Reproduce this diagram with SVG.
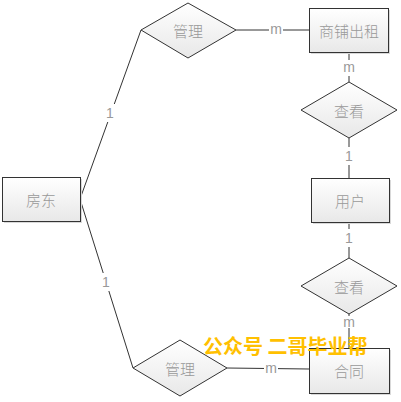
<svg xmlns="http://www.w3.org/2000/svg" width="401" height="402" viewBox="0 0 401 402">
<defs>
<linearGradient id="g" x1="0" y1="0" x2="0" y2="1">
<stop offset="0" stop-color="#ffffff"/>
<stop offset="1" stop-color="#e8e8e8"/>
</linearGradient>
<style>
.ent{fill:url(#g);stroke:#333;stroke-width:1}
.rel{fill:url(#g);stroke:#333;stroke-width:1}
.sh{fill:#d9d9d9}
.t{font-family:"Noto Sans CJK SC","Liberation Sans",sans-serif;font-size:15px;font-weight:300;fill:#999;text-anchor:middle;dominant-baseline:central}
.c{font-family:"Liberation Sans",sans-serif;font-size:14px;fill:#999;text-anchor:middle;dominant-baseline:central}
.ln{stroke:#333;stroke-width:1;fill:none}
.lb{fill:#fff}
</style>
</defs>
<rect width="401" height="402" fill="#fff"/>
<g id="connectors">
<line class="ln" x1="80" y1="199" x2="141" y2="30"/>
<line class="ln" x1="80" y1="199" x2="133" y2="368"/>
<line class="ln" x1="236" y1="30" x2="309" y2="30"/>
<line class="ln" x1="349" y1="52" x2="349" y2="82"/>
<line class="ln" x1="349" y1="138" x2="349" y2="178"/>
<line class="ln" x1="349" y1="222" x2="349" y2="258"/>
<line class="ln" x1="349" y1="314" x2="349" y2="348"/>
<line class="ln" x1="227" y1="368" x2="309" y2="369"/>
<rect class="lb" x="104" y="104" width="12" height="18"/>
<text class="c" x="110" y="113">1</text>
<rect class="lb" x="100" y="273" width="12" height="18"/>
<text class="c" x="106" y="282">1</text>
<rect class="lb" x="269" y="22" width="14" height="16"/>
<text class="c" x="276" y="29">m</text>
<rect class="lb" x="342" y="60" width="14" height="16"/>
<text class="c" x="349" y="67">m</text>
<rect class="lb" x="343" y="147" width="12" height="18"/>
<text class="c" x="349" y="156">1</text>
<rect class="lb" x="343" y="229" width="12" height="18"/>
<text class="c" x="349" y="238">1</text>
<rect class="lb" x="342" y="316" width="14" height="12"/>
<text class="c" x="349" y="322" font-size="12">m</text>
<rect class="lb" x="264" y="361" width="14" height="16"/>
<text class="c" x="271" y="368">m</text>
</g>
<g id="fangdong">
<rect class="sh" x="4" y="179" width="78" height="44"/>
<rect class="ent" x="2.5" y="177.5" width="78" height="44"/>
<text class="t" x="41" y="199">房东</text>
</g>
<g id="guanli1">
<polygon class="rel" points="188,3 236,30 188,58 141,30"/>
<text class="t" x="188" y="30">管理</text>
</g>
<g id="shangpu">
<rect class="sh" x="311" y="10" width="79" height="44"/>
<rect class="ent" x="309.5" y="8.5" width="79" height="44"/>
<text class="t" x="349" y="30">商铺出租</text>
</g>
<g id="chakan1">
<polygon class="rel" points="349,82 397,110 349,138 301,110"/>
<text class="t" x="349" y="110">查看</text>
</g>
<g id="yonghu">
<rect class="sh" x="313" y="180" width="78" height="44"/>
<rect class="ent" x="311.5" y="178.5" width="78" height="44"/>
<text class="t" x="350" y="200">用户</text>
</g>
<g id="chakan2">
<polygon class="rel" points="349,258 397,286 349,314 301,286"/>
<text class="t" x="349" y="286">查看</text>
</g>
<g id="hetong">
<rect class="sh" x="311" y="350" width="80" height="45"/>
<rect class="ent" x="309.5" y="348.5" width="80" height="45"/>
<text class="t" x="349" y="370">合同</text>
</g>
<g id="guanli2">
<polygon class="rel" points="180,340 227,368 180,396 133,368"/>
<text class="t" x="180" y="368">管理</text>
</g>
<text x="203" y="354" font-family="'Noto Sans CJK SC',sans-serif" font-size="20" font-weight="bold" fill="#ffc000">公众号 二哥毕业帮</text>
</svg>
